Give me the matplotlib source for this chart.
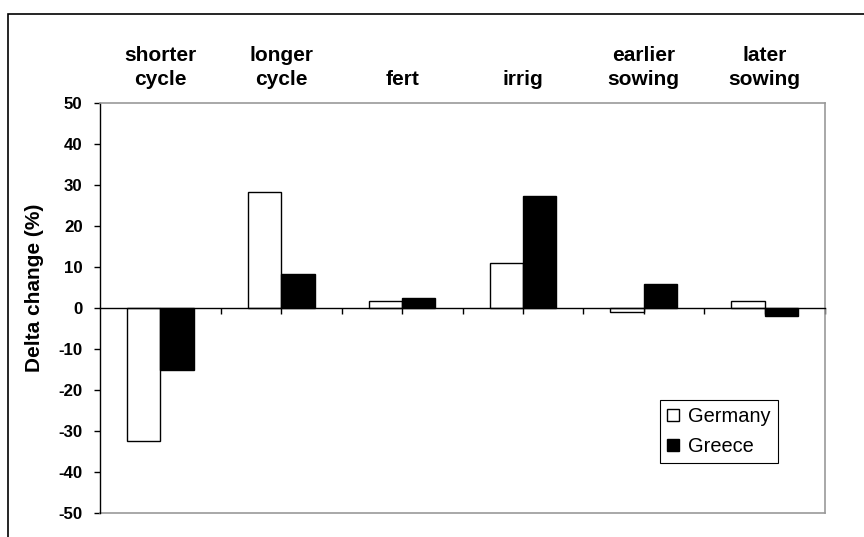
import matplotlib
matplotlib.use("Agg")
import matplotlib.pyplot as plt
import matplotlib.transforms as mtransforms
from matplotlib.patches import Rectangle
import numpy as np

# categories and values (delta change in %)
categories = ["shorter\ncycle", "longer\ncycle", "fert", "irrig", "earlier\nsowing", "later\nsowing"]
germany = [-32.3, 28.3, 1.8, 11.0, -1.0, 1.8]
greece = [-15.0, 8.3, 2.5, 27.2, 5.8, -2.0]
yticks = [-50, -40, -30, -20, -10, 0, 10, 20, 30, 40, 50]

plt.rcParams['font.family'] = ['Liberation Sans', 'DejaVu Sans']

W, H = 864, 537
fig = plt.figure(figsize=(W / 100, H / 100), dpi=100)
ax = fig.add_axes([100 / W, 1 - 513.3 / H, (825 - 100) / W, (513.3 - 102.7) / H])

# outer frame (runs off the right and bottom edges)
fig.patches.append(Rectangle((8 / W, -0.1), 1.2, 1 - 14 / H + 0.1, transform=fig.transFigure,
                             fill=False, edgecolor='black', linewidth=1.2, zorder=0))

x = np.arange(len(categories))
w = 0.276
ax.bar(x - w / 2, germany, w, color='white', edgecolor='black', linewidth=1.0, label='Germany', zorder=3)
ax.bar(x + w / 2, greece, w, color='black', edgecolor='black', linewidth=1.0, label='Greece', zorder=3)

ax.set_xlim(-0.5, len(categories) - 0.5)
ax.set_ylim(-50, 50)
ax.set_yticks(yticks)
ax.set_yticklabels([str(v) for v in yticks], fontweight='bold', fontsize=12.2)
ax.tick_params(axis='y', direction='out', length=4.5, width=1, pad=8, color='black')

# category axis sits at zero, ticks at centers and boundaries
ax.spines['bottom'].set_position(('data', 0))
ax.spines['bottom'].set_linewidth(1.0)
ax.spines['bottom'].set_zorder(4)
ax.set_xticks(np.arange(-0.5, len(categories), 0.5)[1:])
ax.set_xticklabels([])
ax.tick_params(axis='x', direction='out', length=4.5, width=1, color='black')
ax.spines['left'].set_linewidth(1.0)
for s in ['top', 'right']:
    ax.spines[s].set_color('#999999')
    ax.spines[s].set_linewidth(1.2)
# bottom edge of plot area
ax.plot([0, 1], [0, 0], transform=ax.transAxes, color='#999999', linewidth=1.2, clip_on=False)

# category labels above the plot
trans = mtransforms.blended_transform_factory(ax.transData, ax.transAxes)
for i, c in enumerate(categories):
    ax.text(i, 1.034, c, transform=trans, ha='center', va='bottom', fontweight='bold',
            fontsize=15, linespacing=1.3)

ax.set_ylabel('Delta change (%)', fontweight='bold', fontsize=15)
ax.yaxis.set_label_coords(-(100 - 44) / (825 - 100), 0.55)

leg = ax.legend(loc='lower left', bbox_to_anchor=(660 / W, 1 - 463 / H), bbox_transform=fig.transFigure,
                fancybox=False, framealpha=1, edgecolor='black', fontsize=14.4, borderaxespad=0,
                handlelength=0.6, handleheight=0.6, handletextpad=0.45, labelspacing=0.55,
                borderpad=0.35)
leg.get_frame().set_linewidth(0.8)

fig.savefig('out.png', dpi=100)
